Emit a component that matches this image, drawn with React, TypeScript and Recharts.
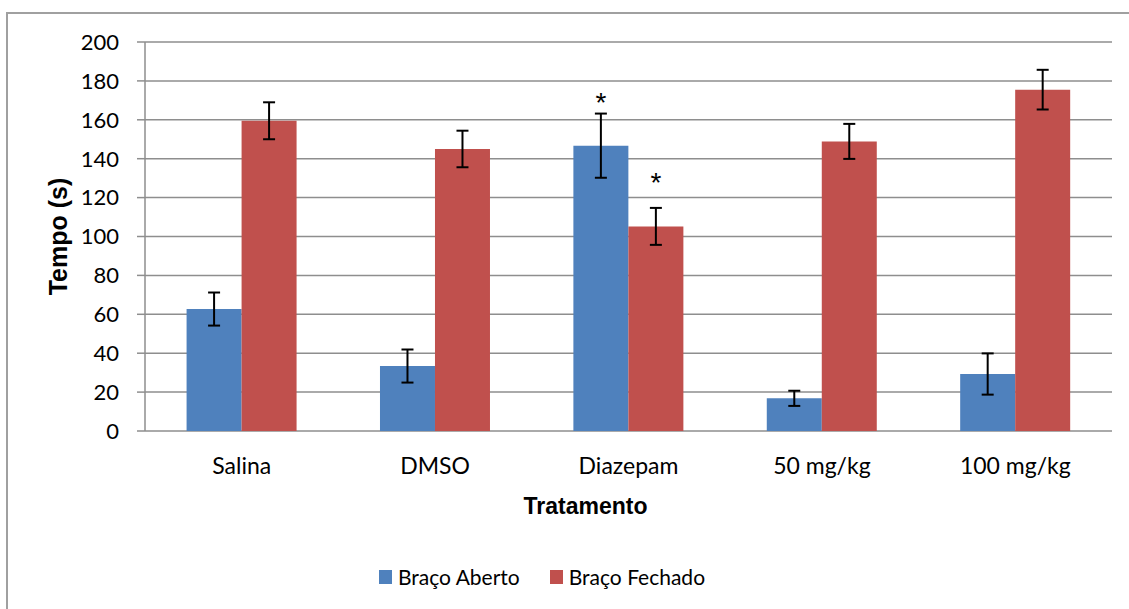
import React from 'react'
import { BarChart, Bar, XAxis, YAxis, CartesianGrid, ErrorBar, Legend, LabelList, Label } from 'recharts'

// treatment groups
const categories = ['Salina', 'DMSO', 'Diazepam', '50 mg/kg', '100 mg/kg']
// time (s) spent in each arm, with error
const bracoAberto = [62.7, 33.4, 146.7, 16.8, 29.3]
const bracoAbertoErr = [8.5, 8.5, 16.5, 3.9, 10.6]
const bracoFechado = [159.5, 145.0, 105.2, 148.9, 175.5]
const bracoFechadoErr = [9.5, 9.4, 9.5, 9.0, 10.2]
// significance marks
const abertoSig = ['', '', '*', '', '']
const fechadoSig = ['', '', '*', '', '']
const yTicks = [0, 20, 40, 60, 80, 100, 120, 140, 160, 180, 200]
const edgeTicks = [0, 1, 2, 3, 4, 5]

const data = categories.map((name, i) => ({
    name,
    aberto: bracoAberto[i],
    abertoErr: bracoAbertoErr[i],
    abertoSig: abertoSig[i],
    fechado: bracoFechado[i],
    fechadoErr: bracoFechadoErr[i],
    fechadoSig: fechadoSig[i],
}))

const BLUE = '#4F81BD'
const RED = '#C0504D'
const GRID = '#8e8e8e'
const LABEL_FONT = 'Lato, "Open Sans", sans-serif'
const TITLE_FONT = '"Liberation Sans", Arial, sans-serif'

const renderSig = (props: any) => {
    const { x, y, width, value } = props
    if (!value) return null
    return (
        <text x={x + width / 2} y={y - 34} textAnchor="middle" fontFamily={TITLE_FONT} fontSize={28} fill="#000">
            {value}
        </text>
    )
}

const renderYTitle = (props: any) => {
    const vb = props.viewBox || { x: 0, y: 42, width: 145, height: 389 }
    const cx = vb.x + 58
    const cy = vb.y + vb.height / 2
    return (
        <text
            x={cx}
            y={cy}
            transform={`rotate(-90 ${cx} ${cy})`}
            textAnchor="middle"
            dominantBaseline="central"
            fontFamily={TITLE_FONT}
            fontWeight="bold"
            fontSize={25}
            fill="#000"
        >
            Tempo (s)
        </text>
    )
}

const renderXTitle = (props: any) => {
    const vb = props.viewBox || { x: 145, y: 431, width: 967, height: 80 }
    return (
        <text
            x={vb.x + vb.width / 2 - 43}
            y={vb.y + 83}
            textAnchor="middle"
            fontFamily={TITLE_FONT}
            fontWeight="bold"
            fontSize={23}
            fill="#000"
        >
            Tratamento
        </text>
    )
}

const renderLegend = (props: any) => {
    const { payload } = props
    return (
        <div style={{ display: 'flex', alignItems: 'center' }}>
            {(payload || []).map((entry: any, i: number) => (
                <div key={i} style={{ display: 'flex', alignItems: 'center', marginRight: i === 0 ? 30 : 0 }}>
                    <span style={{ display: 'inline-block', width: 13, height: 14, background: entry.color, marginRight: 6 }} />
                    <span style={{ fontFamily: LABEL_FONT, fontSize: 21, lineHeight: '26px', color: '#000' }}>{entry.value}</span>
                </div>
            ))}
        </div>
    )
}

export default function App() {
    return (
        <div style={{ position: 'absolute', left: 0, top: 0, width: 1129, height: 609, overflow: 'hidden', background: '#fff' }}>
            <div
                style={{
                    position: 'absolute',
                    left: 6,
                    top: 12,
                    width: 1200,
                    height: 700,
                    border: '2px solid #a0a0a0',
                }}
            />
            <div style={{ position: 'absolute', left: 0, top: 0 }}>
                <BarChart
                    width={1129}
                    height={609}
                    data={data}
                    margin={{ top: 42, right: 17, left: 0, bottom: 98 }}
                    barCategoryGap="21.5%"
                    barGap={0}
                >
                    <CartesianGrid vertical={false} stroke={GRID} strokeWidth={1.5} />
                    <XAxis
                        xAxisId="edges"
                        type="number"
                        domain={[0, 5]}
                        ticks={edgeTicks}
                        allowDataOverflow
                        tick={false}
                        height={0}
                        tickSize={7}
                        stroke={GRID}
                        strokeWidth={1.5}
                    />
                    <XAxis
                        dataKey="name"
                        height={80}
                        axisLine={false}
                        tickLine={false}
                        tickSize={7}
                        tickMargin={20}
                        interval={0}
                        tick={{ fontFamily: LABEL_FONT, fontSize: 23, fill: '#000' }}
                        label={<Label content={renderXTitle} />}
                    />
                    <YAxis
                        width={145}
                        domain={[0, 200]}
                        ticks={yTicks}
                        interval={0}
                        tickSize={8}
                        tickMargin={18}
                        stroke={GRID}
                        strokeWidth={1.5}
                        tick={{ fontFamily: LABEL_FONT, fontSize: 22, fill: '#000' }}
                        label={<Label content={renderYTitle} />}
                    />
                    <Legend
                        layout="horizontal"
                        verticalAlign="middle"
                        align="center"
                        content={renderLegend}
                        wrapperStyle={{ left: 379, top: 564, width: 400, height: 26 }}
                    />
                    <Bar dataKey="aberto" name="Braço Aberto" fill={BLUE} isAnimationActive={false}>
                        <ErrorBar dataKey="abertoErr" width={6} stroke="#000" strokeWidth={2} />
                        <LabelList dataKey="abertoSig" content={renderSig} />
                    </Bar>
                    <Bar dataKey="fechado" name="Braço Fechado" fill={RED} isAnimationActive={false}>
                        <ErrorBar dataKey="fechadoErr" width={6} stroke="#000" strokeWidth={2} />
                        <LabelList dataKey="fechadoSig" content={renderSig} />
                    </Bar>
                </BarChart>
            </div>
        </div>
    )
}
